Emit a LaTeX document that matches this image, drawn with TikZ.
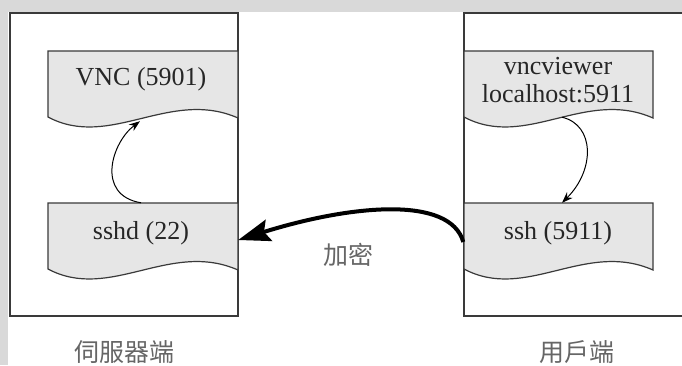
\documentclass[tikz,border=0pt]{standalone}
\usepackage{fontspec}
\setmainfont{Liberation Serif}
\newfontfamily\cjk{Noto Sans CJK TC}
\usetikzlibrary{arrows.meta}
\definecolor{bggray}{HTML}{D9D9D9}
\definecolor{boxfill}{HTML}{E6E6E6}
\definecolor{edge}{HTML}{3A3A3A}
\definecolor{cjkgray}{HTML}{666666}
\newcommand\docshape[3]{\draw[docbox] (#1,#3) -- (#2,#3) -- (#2,#3+67) .. controls (#2-68,#3+37) and (#1+62,#3+99) .. (#1,#3+66) -- cycle;}
\begin{document}
\begin{tikzpicture}[x=1pt,y=-1pt,
  frame/.style={draw=edge, line width=1.5pt, fill=white},
  docbox/.style={draw=edge, line width=1.2pt, fill=boxfill},
  area/.style={draw=none, inner sep=0pt, minimum width=190pt, minimum height=67pt},
  lbl/.style={font=\fontsize{26}{30}\selectfont, text=black!85, inner sep=0pt, align=center},
  cjklbl/.style={font=\cjk\fontsize{25}{30}\selectfont, text=cjkgray, inner sep=0pt},
  thinarrow/.style={line width=1pt, -{Stealth[length=11pt,width=8pt]}},
  thickarrow/.style={line width=4pt, -{Stealth[length=32pt,width=22pt,inset=5pt]}}
]
\useasboundingbox (0,0) rectangle (682,365);
\clip (0,0) rectangle (682,365);
\fill[white] (0,0) rectangle (682,365);
\fill[bggray] (0,0) rectangle (682,12);
\fill[bggray] (0,0) rectangle (8,365);
\draw[frame] (10,13) rectangle (238,316);
\draw[frame] (464,13) rectangle (700,316);
\docshape{48}{238}{51}
\docshape{48}{238}{203}
\docshape{464}{653}{51}
\docshape{464}{653}{203}
\node[area] (vncbox) at (143,84.5) {};
\node[area] (sshdbox) at (143,236.5) {};
\node[area] (viewerbox) at (558.5,84.5) {};
\node[area] (sshbox) at (558.5,236.5) {};
\node[lbl] (vnc) at (141,79) {VNC (5901)};
\node[lbl] (sshd) at (141,233) {sshd (22)};
\node[lbl, text width=190pt] (viewer) at (558,80) {vncviewer\\[-2pt]localhost:5911};
\node[lbl] (ssh) at (558,233) {ssh (5911)};
\draw[thinarrow] ([xshift=-2pt]sshdbox.north) .. controls (95,195) and (112,142) .. ([xshift=-3pt,yshift=-3pt]vncbox.south);
\draw[thinarrow] ([xshift=3.5pt,yshift=1pt]viewerbox.south) .. controls (595,125) and (595,170) .. ([xshift=3.5pt]sshbox.north);
\draw[thickarrow] ([yshift=-5.5pt]sshbox.west) .. controls (450,195) and (350,205) .. ([yshift=-3.5pt]sshdbox.east);
\node[cjklbl] (enc) at (348,255) {加密};
\node[cjklbl] (server) at (124,352) {伺服器端};
\node[cjklbl] (client) at (577,352) {用戶端};
\end{tikzpicture}
\end{document}
